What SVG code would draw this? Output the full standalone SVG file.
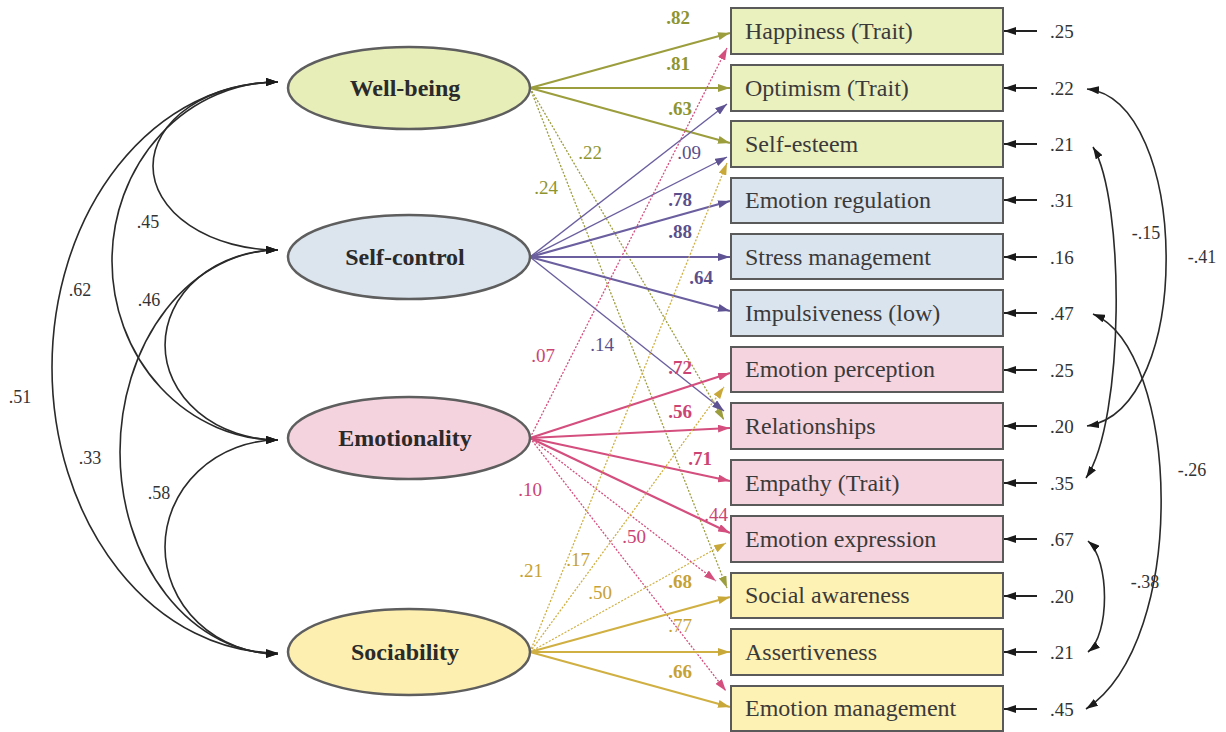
<svg xmlns="http://www.w3.org/2000/svg" width="1226" height="732" viewBox="0 0 1226 732">
<style>
.box{stroke:#5a5a5a;stroke-width:2}
.ell{stroke:#5e5e5e;stroke-width:2.5}
.bt{font-family:"Liberation Serif",serif;font-size:24px;fill:#3a3a3a}
.lt{font-family:"Liberation Serif",serif;font-size:24px;font-weight:bold;fill:#2a2a2a;text-anchor:middle}
.et{font-family:"Liberation Serif",serif;font-size:19px;fill:#333}
.ct{font-family:"Liberation Serif",serif;font-size:18px;fill:#333;text-anchor:middle}
.pl{font-family:"Liberation Serif",serif;font-size:19px;text-anchor:middle}
.b{font-weight:bold}
.cov{fill:none;stroke:#2a2a2a;stroke-width:1.6;marker-start:url(#mK);marker-end:url(#mK)}
.err{fill:none;stroke:#222;stroke-width:1.8;marker-end:url(#mK)}
.wb{stroke:#9c9e3e;fill:none;marker-end:url(#mWB)}
.sc{stroke:#6b5f9f;fill:none;marker-end:url(#mSC)}
.em{stroke:#d44e7e;fill:none;marker-end:url(#mEM)}
.so{stroke:#d0b043;fill:none;marker-end:url(#mSO)}
.s{stroke-width:2.2}
.t{stroke-width:1.4}
.d{stroke-width:1.3;stroke-dasharray:2 1.6}
.cwb{fill:#8e9530}.csc{fill:#5a4f8c}.cem{fill:#cc4474}.cso{fill:#c6a236}
</style>
<defs>
<marker id="mK" viewBox="0 0 12 8" refX="12" refY="4" markerWidth="12" markerHeight="8" markerUnits="userSpaceOnUse" orient="auto-start-reverse"><path d="M0,0 L12,4 L0,8 z" fill="#1a1a1a"/></marker>
<marker id="mWB" viewBox="0 0 12 8" refX="12" refY="4" markerWidth="12" markerHeight="8" markerUnits="userSpaceOnUse" orient="auto"><path d="M0,0 L12,4 L0,8 z" fill="#9c9e3e"/></marker>
<marker id="mSC" viewBox="0 0 12 8" refX="12" refY="4" markerWidth="12" markerHeight="8" markerUnits="userSpaceOnUse" orient="auto"><path d="M0,0 L12,4 L0,8 z" fill="#5f5393"/></marker>
<marker id="mEM" viewBox="0 0 12 8" refX="12" refY="4" markerWidth="12" markerHeight="8" markerUnits="userSpaceOnUse" orient="auto"><path d="M0,0 L12,4 L0,8 z" fill="#d44e7e"/></marker>
<marker id="mSO" viewBox="0 0 12 8" refX="12" refY="4" markerWidth="12" markerHeight="8" markerUnits="userSpaceOnUse" orient="auto"><path d="M0,0 L12,4 L0,8 z" fill="#c9a83a"/></marker>
</defs>
<rect width="1226" height="732" fill="#ffffff"/>

<g id="connectors">
  <!-- latent covariances -->
  <path class="cov" d="M278,82 A226,285.5 0 0 0 278,653"/>
  <path class="cov" d="M278,82 A166,179 0 0 0 278,440"/>
  <path class="cov" d="M278,82 A125,84 0 0 0 278,250"/>
  <path class="cov" d="M278,250 A113,95 0 0 0 278,440"/>
  <path class="cov" d="M278,250 A158,202 0 0 0 278,654"/>
  <path class="cov" d="M278,440 A113,107 0 0 0 278,654"/>
  <!-- Well-being loadings -->
  <path class="wb s" d="M530,88 L730,33"/>
  <path class="wb s" d="M530,88 L730,88"/>
  <path class="wb s" d="M530,88 L730,143"/>
  <path class="wb d" d="M530,88 L724,420"/>
  <path class="wb d" d="M530,88 L727,588"/>
  <!-- Self-control loadings -->
  <path class="sc t" d="M530,257 L727,104"/>
  <path class="sc t" d="M530,257 L727,157"/>
  <path class="sc s" d="M530,257 L730,201"/>
  <path class="sc s" d="M530,257 L730,257"/>
  <path class="sc s" d="M530,257 L730,311"/>
  <path class="sc t" d="M530,257 L724,411"/>
  <!-- Emotionality loadings -->
  <path class="em d" d="M530,438 L727,48"/>
  <path class="em s" d="M530,438 L730,373"/>
  <path class="em s" d="M530,438 L730,428"/>
  <path class="em s" d="M530,438 L730,481"/>
  <path class="em s" d="M530,438 L730,533"/>
  <path class="em d" d="M530,438 L716,581"/>
  <path class="em d" d="M530,438 L726,691"/>
  <!-- Sociability loadings -->
  <path class="so d" d="M530,652 L727,163"/>
  <path class="so d" d="M530,652 L724,387"/>
  <path class="so d" d="M530,652 L726,543"/>
  <path class="so s" d="M530,652 L730,597"/>
  <path class="so s" d="M530,652 L730,652"/>
  <path class="so s" d="M530,652 L730,707"/>
  <!-- error terms -->
  <path class="err" d="M1037,31 L1004,31"/>
  <path class="err" d="M1037,88 L1004,88"/>
  <path class="err" d="M1037,144 L1004,144"/>
  <path class="err" d="M1037,200 L1004,200"/>
  <path class="err" d="M1037,257 L1004,257"/>
  <path class="err" d="M1037,313 L1004,313"/>
  <path class="err" d="M1037,370 L1004,370"/>
  <path class="err" d="M1037,426 L1004,426"/>
  <path class="err" d="M1037,483 L1004,483"/>
  <path class="err" d="M1037,539 L1004,539"/>
  <path class="err" d="M1037,596 L1004,596"/>
  <path class="err" d="M1037,652 L1004,652"/>
  <path class="err" d="M1037,709 L1004,709"/>
  <!-- error covariances -->
  <path class="cov" d="M1087,89 C1190,100 1195,410 1087,426"/>
  <path class="cov" d="M1093,147 C1125,200 1125,420 1086,478"/>
  <path class="cov" d="M1093,314 C1180,350 1190,640 1086,709"/>
  <path class="cov" d="M1088,541 C1110,560 1110,635 1088,652"/>
</g>

<g id="connector-labels">
  <text class="ct" x="148" y="228">.45</text>
  <text class="ct" x="80" y="296">.62</text>
  <text class="ct" x="149" y="306">.46</text>
  <text class="ct" x="20" y="403">.51</text>
  <text class="ct" x="90" y="464">.33</text>
  <text class="ct" x="159" y="499">.58</text>

  <text class="pl cwb b" x="678" y="24">.82</text>
  <text class="pl cwb b" x="678" y="70">.81</text>
  <text class="pl cwb b" x="680" y="115">.63</text>
  <text class="pl cwb" x="590" y="159">.22</text>
  <text class="pl cwb" x="546" y="194">.24</text>

  <text class="pl csc" x="689" y="159">.09</text>
  <text class="pl csc b" x="680" y="206">.78</text>
  <text class="pl csc b" x="680" y="238">.88</text>
  <text class="pl csc b" x="701" y="284">.64</text>
  <text class="pl csc" x="602" y="351">.14</text>

  <text class="pl cem" x="543" y="362">.07</text>
  <text class="pl cem b" x="680" y="374">.72</text>
  <text class="pl cem b" x="680" y="418">.56</text>
  <text class="pl cem b" x="700" y="465">.71</text>
  <text class="pl cem" x="716" y="521">.44</text>
  <text class="pl cem" x="530" y="496">.10</text>
  <text class="pl cem" x="634" y="543">.50</text>

  <text class="pl cso" x="531" y="577">.21</text>
  <text class="pl cso" x="578" y="566">.17</text>
  <text class="pl cso" x="600" y="599">.50</text>
  <text class="pl cso b" x="680" y="588">.68</text>
  <text class="pl cso" x="680" y="632">.77</text>
  <text class="pl cso b" x="680" y="678">.66</text>

  <text class="et" x="1050" y="38">.25</text>
  <text class="et" x="1050" y="95">.22</text>
  <text class="et" x="1050" y="151">.21</text>
  <text class="et" x="1050" y="207">.31</text>
  <text class="et" x="1050" y="264">.16</text>
  <text class="et" x="1050" y="320">.47</text>
  <text class="et" x="1050" y="377">.25</text>
  <text class="et" x="1050" y="433">.20</text>
  <text class="et" x="1050" y="490">.35</text>
  <text class="et" x="1050" y="546">.67</text>
  <text class="et" x="1050" y="603">.20</text>
  <text class="et" x="1050" y="659">.21</text>
  <text class="et" x="1050" y="716">.45</text>

  <text class="ct" x="1146" y="239">-.15</text>
  <text class="ct" x="1202" y="263">-.41</text>
  <text class="ct" x="1192" y="476">-.26</text>
  <text class="ct" x="1145" y="588">-.38</text>
</g>

<g id="well-being"><ellipse class="ell" cx="409" cy="88" rx="121" ry="41" fill="#e8eeb8"/><text class="lt" x="405" y="96">Well-being</text></g>
<g id="self-control"><ellipse class="ell" cx="409" cy="257" rx="121" ry="42" fill="#dce5ee"/><text class="lt" x="405" y="265">Self-control</text></g>
<g id="emotionality"><ellipse class="ell" cx="409" cy="438" rx="121" ry="41" fill="#f5d3de"/><text class="lt" x="405" y="446">Emotionality</text></g>
<g id="sociability"><ellipse class="ell" cx="409" cy="652" rx="121" ry="43" fill="#fcefb0"/><text class="lt" x="405" y="660">Sociability</text></g>

<g id="happiness"><rect class="box" x="731" y="8" width="272" height="46" fill="#ebf0bf"/><text class="bt" x="745" y="39">Happiness (Trait)</text></g>
<g id="optimism"><rect class="box" x="731" y="65" width="272" height="46" fill="#ebf0bf"/><text class="bt" x="745" y="96">Optimism (Trait)</text></g>
<g id="self-esteem"><rect class="box" x="731" y="121" width="272" height="46" fill="#ebf0bf"/><text class="bt" x="745" y="152">Self-esteem</text></g>
<g id="emotion-regulation"><rect class="box" x="731" y="178" width="272" height="45" fill="#dae4ee"/><text class="bt" x="745" y="208">Emotion regulation</text></g>
<g id="stress-management"><rect class="box" x="731" y="234" width="272" height="45" fill="#dae4ee"/><text class="bt" x="745" y="265">Stress management</text></g>
<g id="impulsiveness"><rect class="box" x="731" y="290" width="272" height="46" fill="#dae4ee"/><text class="bt" x="745" y="321">Impulsiveness (low)</text></g>
<g id="emotion-perception"><rect class="box" x="731" y="347" width="272" height="45" fill="#f5d4df"/><text class="bt" x="745" y="377">Emotion perception</text></g>
<g id="relationships"><rect class="box" x="731" y="403" width="272" height="46" fill="#f5d4df"/><text class="bt" x="745" y="434">Relationships</text></g>
<g id="empathy"><rect class="box" x="731" y="460" width="272" height="45" fill="#f5d4df"/><text class="bt" x="745" y="491">Empathy (Trait)</text></g>
<g id="emotion-expression"><rect class="box" x="731" y="516" width="272" height="46" fill="#f5d4df"/><text class="bt" x="745" y="547">Emotion expression</text></g>
<g id="social-awareness"><rect class="box" x="731" y="573" width="272" height="45" fill="#fdf1b3"/><text class="bt" x="745" y="603">Social awareness</text></g>
<g id="assertiveness"><rect class="box" x="731" y="629" width="272" height="46" fill="#fdf1b3"/><text class="bt" x="745" y="660">Assertiveness</text></g>
<g id="emotion-management"><rect class="box" x="731" y="686" width="272" height="45" fill="#fdf1b3"/><text class="bt" x="745" y="716">Emotion management</text></g>
</svg>
